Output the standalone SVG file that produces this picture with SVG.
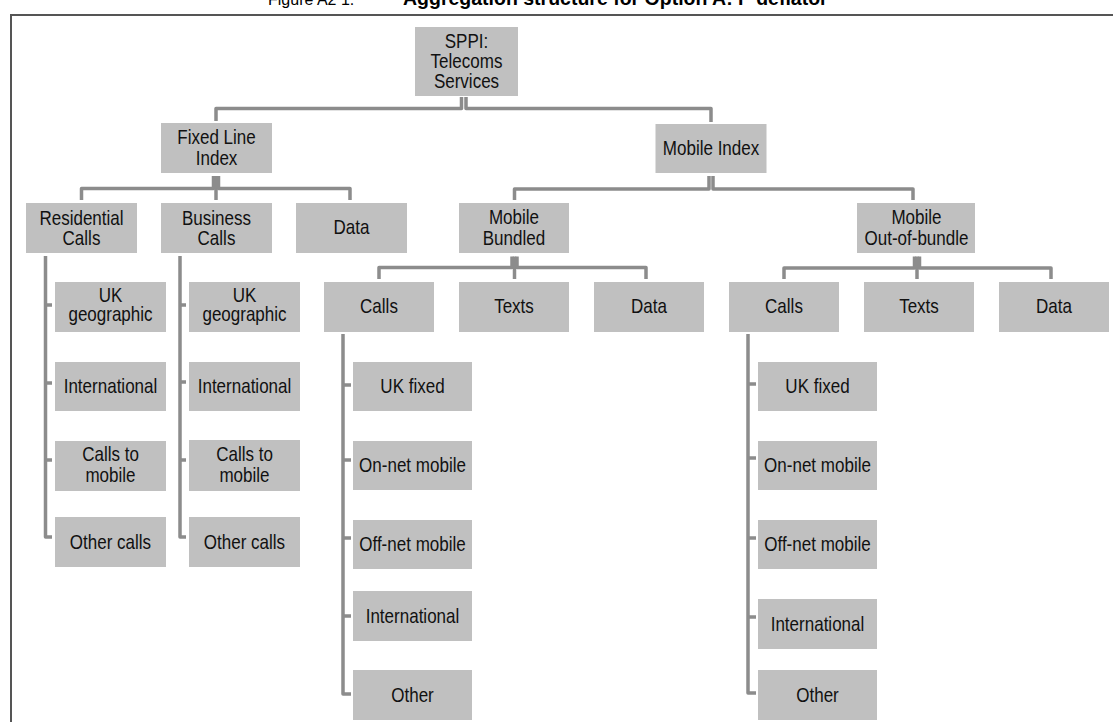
<svg xmlns="http://www.w3.org/2000/svg" width="1113" height="722" viewBox="0 0 1113 722">
<style>
.b{fill:#c0c0c0}
.t{font-family:"Liberation Sans",Arial,sans-serif;font-size:20.5px;fill:#111;text-anchor:middle;transform-box:fill-box;transform-origin:center;transform:scaleX(0.83)}
.c{fill:none;stroke:#8c8c8c;stroke-width:3.5;stroke-linejoin:round}
.ti{font-family:"Liberation Sans",Arial,sans-serif;fill:#000}
</style>
<rect x="0" y="0" width="1113" height="722" fill="#fff"/>
<text class="ti" x="268" y="5" font-size="16">Figure A2 1:</text>
<text class="ti" x="403" y="5" font-size="19.5" font-weight="bold">Aggregation structure for Option A: P deflator</text>
<path d="M11,722 V15 H1113" fill="none" stroke="#555" stroke-width="2"/>
<g id="connectors">
<path class="c" d="M461.5,97 V108.5 H216 V121"/>
<path class="c" d="M466,97 V108.5 H711 V122"/>
<path class="c" d="M213.5,176 V188.5 H81.5 V200"/>
<path class="c" d="M216,176 V200"/>
<path class="c" d="M218.5,176 V188.5 H350 V200"/>
<path class="c" d="M709,176 V189 H514.5 V200"/>
<path class="c" d="M713,176 V189 H913 V200"/>
<path class="c" d="M512,256.5 V267.5 H379 V279"/>
<path class="c" d="M514.5,256.5 V279"/>
<path class="c" d="M517,256.5 V267.5 H646 V279"/>
<path class="c" d="M914.5,256.5 V268 H784 V279"/>
<path class="c" d="M917,256.5 V279"/>
<path class="c" d="M919.5,256.5 V268 H1051 V279"/>
<path class="c" d="M45.5,256 V537 H52 M45.5,305 H52 M45.5,383 H52 M45.5,460 H52"/>
<path class="c" d="M180,256 V537 H186 M180,305 H186 M180,382 H186 M180,460 H186"/>
<path class="c" d="M343,334 V694 H351 M343,385 H351 M343,460 H351 M343,538 H351 M343,616 H351"/>
<path class="c" d="M748,334 V693 H756 M748,384 H756 M748,458 H756 M748,538 H756 M748,617 H756"/>
</g>
<g id="sppi"><rect class="b" x="415" y="27" width="103" height="69"/><text class="t" x="466.5" y="48">SPPI:</text><text class="t" x="466.5" y="68">Telecoms</text><text class="t" x="466.5" y="88">Services</text></g>
<g id="fixed"><rect class="b" x="161" y="123" width="111" height="50"/><text class="t" x="216.5" y="144">Fixed Line</text><text class="t" x="216.5" y="165">Index</text></g>
<g id="mobile"><rect class="b" x="655.5" y="124" width="111" height="49"/><text class="t" x="711" y="155">Mobile Index</text></g>
<g id="residential"><rect class="b" x="26" y="203" width="111" height="50"/><text class="t" x="81.5" y="225">Residential</text><text class="t" x="81.5" y="245">Calls</text></g>
<g id="business"><rect class="b" x="161" y="203" width="111" height="50"/><text class="t" x="216.5" y="225">Business</text><text class="t" x="216.5" y="245">Calls</text></g>
<g id="fdata"><rect class="b" x="296" y="203" width="111" height="50"/><text class="t" x="351.5" y="234">Data</text></g>
<g id="bundled"><rect class="b" x="459" y="203" width="110" height="50"/><text class="t" x="514" y="224">Mobile</text><text class="t" x="514" y="245">Bundled</text></g>
<g id="oob"><rect class="b" x="857" y="203" width="118" height="50"/><text class="t" x="916.5" y="224">Mobile</text><text class="t" x="916.5" y="245">Out-of-bundle</text></g>
<g id="r-uk"><rect class="b" x="55" y="282" width="111" height="50"/><text class="t" x="110.5" y="302">UK</text><text class="t" x="110.5" y="321">geographic</text></g>
<g id="r-intl"><rect class="b" x="55" y="362" width="111" height="49"/><text class="t" x="110.5" y="393">International</text></g>
<g id="r-mob"><rect class="b" x="55" y="441" width="111" height="50"/><text class="t" x="110.5" y="461">Calls to</text><text class="t" x="110.5" y="482">mobile</text></g>
<g id="r-other"><rect class="b" x="55" y="517" width="111" height="50"/><text class="t" x="110.5" y="549">Other calls</text></g>
<g id="b-uk"><rect class="b" x="189" y="282" width="111" height="50"/><text class="t" x="244.5" y="302">UK</text><text class="t" x="244.5" y="321">geographic</text></g>
<g id="b-intl"><rect class="b" x="189" y="362" width="111" height="49"/><text class="t" x="244.5" y="393">International</text></g>
<g id="b-mob"><rect class="b" x="189" y="440" width="111" height="51"/><text class="t" x="244.5" y="461">Calls to</text><text class="t" x="244.5" y="482">mobile</text></g>
<g id="b-other"><rect class="b" x="189" y="517" width="111" height="50"/><text class="t" x="244.5" y="549">Other calls</text></g>
<g id="mb-calls"><rect class="b" x="324" y="282" width="110" height="50"/><text class="t" x="379" y="313">Calls</text></g>
<g id="mb-texts"><rect class="b" x="459" y="282" width="110" height="50"/><text class="t" x="514" y="313">Texts</text></g>
<g id="mb-data"><rect class="b" x="594" y="282" width="110" height="50"/><text class="t" x="649" y="313">Data</text></g>
<g id="mo-calls"><rect class="b" x="729" y="282" width="110" height="50"/><text class="t" x="784" y="313">Calls</text></g>
<g id="mo-texts"><rect class="b" x="864" y="282" width="110" height="50"/><text class="t" x="919" y="313">Texts</text></g>
<g id="mo-data"><rect class="b" x="999" y="282" width="110" height="50"/><text class="t" x="1054" y="313">Data</text></g>
<g id="mb-ukfixed"><rect class="b" x="353" y="362" width="119" height="49"/><text class="t" x="412.5" y="393">UK fixed</text></g>
<g id="mb-onnet"><rect class="b" x="353" y="441" width="119" height="49"/><text class="t" x="412.5" y="472">On-net mobile</text></g>
<g id="mb-offnet"><rect class="b" x="353" y="520" width="119" height="49"/><text class="t" x="412.5" y="551">Off-net mobile</text></g>
<g id="mb-intl"><rect class="b" x="353" y="591" width="119" height="50"/><text class="t" x="412.5" y="623">International</text></g>
<g id="mb-other"><rect class="b" x="353" y="670" width="119" height="50"/><text class="t" x="412.5" y="702">Other</text></g>
<g id="mo-ukfixed"><rect class="b" x="758" y="362" width="119" height="49"/><text class="t" x="817.5" y="393">UK fixed</text></g>
<g id="mo-onnet"><rect class="b" x="758" y="441" width="119" height="49"/><text class="t" x="817.5" y="472">On-net mobile</text></g>
<g id="mo-offnet"><rect class="b" x="758" y="520" width="119" height="49"/><text class="t" x="817.5" y="551">Off-net mobile</text></g>
<g id="mo-intl"><rect class="b" x="758" y="599" width="119" height="50"/><text class="t" x="817.5" y="631">International</text></g>
<g id="mo-other"><rect class="b" x="758" y="670" width="119" height="50"/><text class="t" x="817.5" y="702">Other</text></g>
</svg>
